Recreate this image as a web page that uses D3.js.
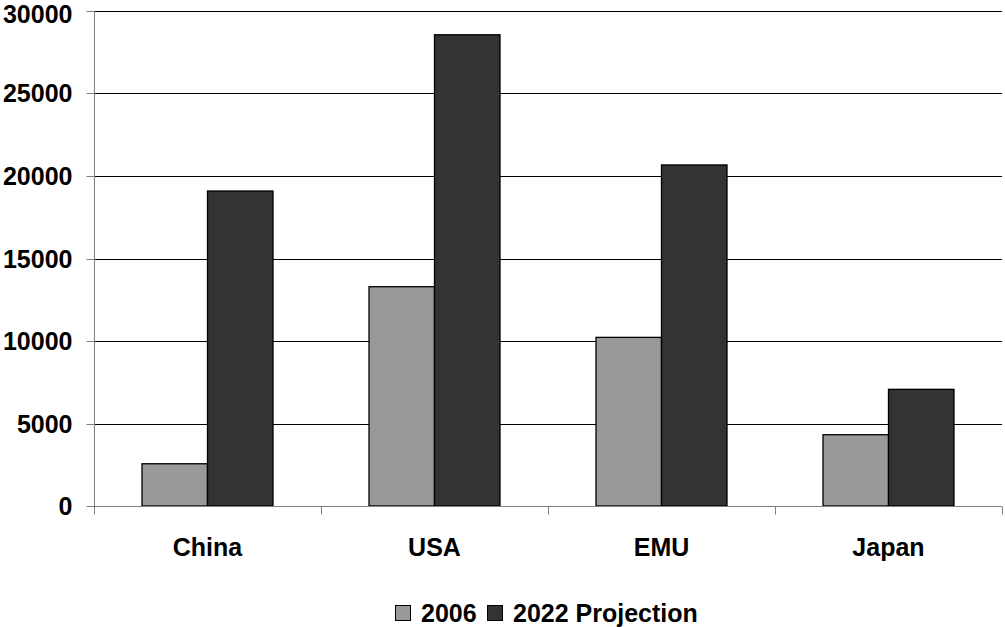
<!DOCTYPE html>
<html><head><meta charset="utf-8">
<script src="https://cdn.jsdelivr.net/npm/d3@7"></script>
<style>body{margin:0;background:#fff}svg{display:block}</style>
</head><body>
<svg id="c" width="1005" height="627"></svg>
<script>
const categories = ["China", "USA", "EMU", "Japan"];
const seriesNames = ["2006", "2022 Projection"];
const values2006 = [2560, 13290, 10220, 4320];
const values2022 = [19090, 28560, 20670, 7070];
const yTicks = [0, 5000, 10000, 15000, 20000, 25000, 30000];
const colors = ["#999999", "#333333"];

const svg = d3.select("#c");
const font = "Liberation Sans, Arial, sans-serif";
const FS = 25;
const L = 94, R = 1002, T = 11, B = 506;

const x0 = d3.scaleBand().domain(categories).range([L, R]).padding(0);
const x1 = d3.scaleBand().domain(seriesNames).range([0, x0.bandwidth()]).paddingInner(0).paddingOuter(0.733);
const y = d3.scaleLinear().domain([0, 30000]).range([B, T]);

// gridlines
svg.append("g").selectAll("line").data(yTicks.filter(d => d > 0)).join("line")
  .attr("x1", L).attr("x2", R)
  .attr("y1", d => Math.round(y(d)) + 0.5).attr("y2", d => Math.round(y(d)) + 0.5)
  .attr("stroke", "#000").attr("stroke-width", 1);

// y axis
const yAxis = svg.append("g").attr("transform", `translate(${L + 0.5},0)`)
  .call(d3.axisLeft(y).tickValues(yTicks).tickSize(8).tickPadding(14).tickFormat(d3.format("d")));
yAxis.select(".domain").attr("stroke", "#808080").attr("d", `M0,${T}V${B}`);
yAxis.selectAll(".tick line").attr("stroke", "#808080");
yAxis.selectAll(".tick").attr("transform", d => `translate(0,${Math.round(y(d)) + 0.5})`);
yAxis.selectAll("text").attr("font-family", font).attr("font-size", FS).attr("font-weight", "bold").attr("fill", "#000")
  .attr("dy", d => d === 30000 ? "0.46em" : "0.35em");

// bars
const data = categories.map((c, i) => ({ c, vals: [values2006[i], values2022[i]] }));
const g = svg.append("g");
data.forEach(d => {
  d.vals.forEach((v, j) => {
    const xs = x0(d.c) + x1(seriesNames[j]);
    g.append("rect")
      .attr("x", xs).attr("y", y(v))
      .attr("width", x1.bandwidth()).attr("height", B - y(v))
      .attr("fill", colors[j]).attr("stroke", "#000").attr("stroke-width", 1.3);
  });
});

// x axis
const xAxisG = svg.append("g").attr("transform", `translate(0,${B + 0.5})`);
xAxisG.append("line").attr("x1", L).attr("x2", R).attr("stroke", "#808080");
const bounds = categories.map(c => x0(c)).concat([R]);
xAxisG.selectAll("line.tk").data(bounds).join("line").attr("class", "tk")
  .attr("x1", d => Math.round(d) + 0.5).attr("x2", d => Math.round(d) + 0.5)
  .attr("y1", 0).attr("y2", 8).attr("stroke", "#808080");
xAxisG.selectAll("text").data(categories).join("text")
  .attr("x", d => x0(d) + x0.bandwidth() / 2).attr("y", 49.5)
  .attr("text-anchor", "middle").attr("font-family", font).attr("font-size", FS).attr("font-weight", "bold")
  .text(d => d);

// legend
const leg = svg.append("g");
const legItems = [{ name: seriesNames[0], x: 395 }, { name: seriesNames[1], x: 487 }];
legItems.forEach((it, j) => {
  leg.append("rect").attr("x", it.x + 0.5).attr("y", 605.5).attr("width", 15).attr("height", 15)
    .attr("fill", colors[j]).attr("stroke", "#000").attr("stroke-width", 1);
  leg.append("text").attr("x", it.x + 26).attr("y", 622)
    .attr("font-family", font).attr("font-size", FS).attr("font-weight", "bold").text(it.name);
});
</script>
</body></html>
